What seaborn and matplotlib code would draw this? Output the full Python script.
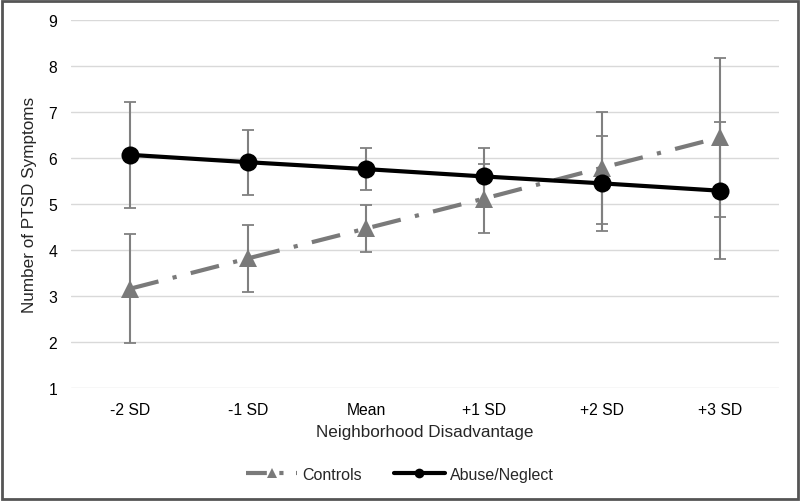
import matplotlib
matplotlib.use("Agg")
import matplotlib.pyplot as plt
from matplotlib.patches import Rectangle
import pandas as pd
import seaborn as sns

categories = ["-2 SD", "-1 SD", "Mean", "+1 SD", "+2 SD", "+3 SD"]
controls = [3.16, 3.82, 4.47, 5.12, 5.79, 6.45]
controls_err = [1.19, 0.73, 0.51, 0.75, 1.22, 1.73]
abuse = [6.07, 5.91, 5.76, 5.60, 5.45, 5.29]
abuse_err = [1.15, 0.71, 0.45, 0.62, 1.03, 1.49]

sns.set_style("white")
plt.rcParams["font.family"] = ["Liberation Sans", "DejaVu Sans"]

df = pd.DataFrame({
    "x": categories * 2,
    "y": controls + abuse,
    "group": ["Controls"] * 6 + ["Abuse/Neglect"] * 6,
})

fig = plt.figure(figsize=(8, 5.02), dpi=100)
ax = fig.add_axes([0.089, 0.225, 0.885, 0.733])

pos = list(range(len(categories)))
ax.errorbar(pos, controls, yerr=controls_err, fmt="none", ecolor="#808080",
            elinewidth=1.5, capsize=4, capthick=1.3, zorder=2)
ax.errorbar(pos, abuse, yerr=abuse_err, fmt="none", ecolor="#808080",
            elinewidth=1.5, capsize=4, capthick=1.3, zorder=2)

sns.lineplot(data=df[df.group == "Controls"], x="x", y="y", ax=ax,
             color="#7a7a7a", linewidth=3, marker="^", markersize=13,
             markeredgewidth=0, sort=False, zorder=3, legend=False)
ax.lines[-1].set_dashes([7, 3.5, 1, 3.5])
sns.lineplot(data=df[df.group == "Abuse/Neglect"], x="x", y="y", ax=ax,
             color="black", linewidth=3, marker="o", markersize=13,
             markeredgewidth=0, sort=False, zorder=4, legend=False)

ax.set_xlim(-0.5, 5.5)
ax.set_ylim(1, 9)
ax.set_yticks(range(1, 10))
ax.yaxis.grid(True, color="#d9d9d9", linewidth=1)
ax.set_axisbelow(True)
for s in ax.spines.values():
    s.set_visible(False)
ax.tick_params(axis="both", length=0, labelsize=11.3, pad=10, colors="black")
ax.set_xlabel("Neighborhood Disadvantage", fontsize=12.3, labelpad=5)
ax.set_ylabel("Number of PTSD Symptoms", fontsize=12.3, labelpad=8)

h_ctrl = plt.Line2D([], [], color="#7a7a7a", linewidth=3, marker="^",
                    markersize=7, markeredgewidth=0, dashes=[5, 3, 1, 3])
h_abuse = plt.Line2D([], [], color="black", linewidth=3, marker="o",
                     markersize=7, markeredgewidth=0)
fig.legend([h_ctrl, h_abuse], ["Controls", "Abuse/Neglect"], loc="center",
           bbox_to_anchor=(0.5, 0.053), ncol=2, frameon=False, fontsize=11.5,
           handlelength=3.2, handletextpad=0.3, columnspacing=2.0)

fig.patches.append(Rectangle((0.002, 0.003), 0.996, 0.994, transform=fig.transFigure,
                             fill=False, edgecolor="#555555", linewidth=2))

fig.savefig("out.png", dpi=100)
